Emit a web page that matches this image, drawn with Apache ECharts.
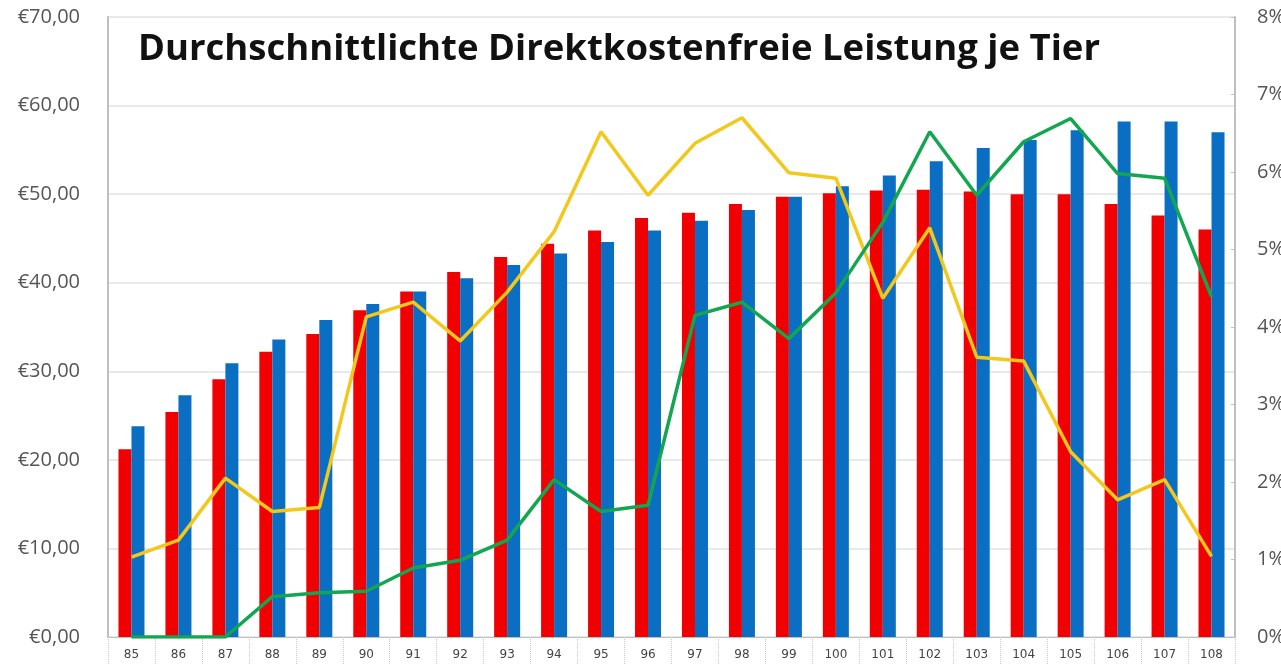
<!DOCTYPE html>
<html><head><meta charset="utf-8">
<script src="https://cdn.jsdelivr.net/npm/echarts@6/dist/echarts.min.js"></script>
<style>html,body{margin:0;padding:0;background:#fff}#c{width:1281px;height:664px}</style>
</head><body><div id="c"></div>
<script>
const categories = ['85','86','87','88','89','90','91','92','93','94','95','96','97','98','99','100','101','102','103','104','105','106','107','108'];
const redValues = [21.2,25.4,29.1,32.2,34.2,36.9,39.0,41.2,42.9,44.4,45.9,47.3,47.9,48.9,49.7,50.1,50.4,50.5,50.3,50.0,50.0,48.9,47.6,46.0];
const blueValues = [23.8,27.3,30.9,33.6,35.8,37.6,39.0,40.5,42.0,43.3,44.6,45.9,47.0,48.2,49.7,50.9,52.1,53.7,55.2,56.1,57.2,58.2,58.2,57.0];
const yellowPct = [1.03,1.25,2.05,1.62,1.67,4.13,4.32,3.82,4.45,5.23,6.52,5.70,6.37,6.70,5.99,5.92,4.37,5.28,3.61,3.56,2.39,1.77,2.03,1.04];
const greenPct = [0,0,0,0.52,0.57,0.59,0.89,0.99,1.25,2.03,1.62,1.70,4.15,4.32,3.85,4.44,5.35,6.52,5.70,6.39,6.69,5.98,5.92,4.39];
const leftTicks = {min:0, max:70, interval:10};
const rightTicks = {min:0, max:8, interval:1};

const chart = echarts.init(document.getElementById('c'));
chart.setOption({
  animation:false,
  backgroundColor:'#fff',
  title:{text:'Durchschnittlichte Direktkostenfreie Leistung je Tier', left:133, top:26,
    textStyle:{fontFamily:'Open Sans', fontWeight:'bold', fontSize:36.5, color:'#111'}},
  grid:{left:108, right:46, top:17, bottom:27, outerBoundsMode:'none', containLabel:false},
  xAxis:{type:'category', data:categories,
    axisLine:{show:true, lineStyle:{color:'#bfbfbf'}},
    axisTick:{show:true, alignWithLabel:false, length:27, lineStyle:{color:'#c8c8c8', type:'dotted'}},
    axisLabel:{margin:12, fontSize:12, color:'#444', fontFamily:'DejaVu Sans'}},
  yAxis:[
    {type:'value', min:leftTicks.min, max:leftTicks.max, interval:leftTicks.interval, position:'left',
     axisLine:{show:true, lineStyle:{color:'#bfbfbf', width:2}}, axisTick:{show:false},
     splitLine:{lineStyle:{color:'#e2e2e2', width:1.5}},
     axisLabel:{margin:28, fontSize:20, color:'#555', fontFamily:'Open Sans',
       formatter:v=>'€'+v.toFixed(2).replace('.',',')}},
    {type:'value', min:rightTicks.min, max:rightTicks.max, interval:rightTicks.interval, position:'right',
     axisLine:{show:true, lineStyle:{color:'#bfbfbf', width:2}}, axisTick:{show:true, inside:true, length:4, lineStyle:{color:'#bfbfbf'}},
     splitLine:{show:false},
     axisLabel:{margin:22, fontSize:20, color:'#555', fontFamily:'Open Sans', formatter:v=>v+'%'}}
  ],
  series:[
    {type:'bar', data:redValues, barWidth:13, barGap:'0%', itemStyle:{color:'#f00000'}},
    {type:'bar', data:blueValues, barWidth:13, itemStyle:{color:'#0a6fc2'}},
    {type:'line', yAxisIndex:1, data:yellowPct, symbol:'none', lineStyle:{color:'#f2c81c', width:3.5}, z:5},
    {type:'line', yAxisIndex:1, data:greenPct, symbol:'none', lineStyle:{color:'#12a650', width:3.5}, z:6}
  ]
});
</script></body></html>
